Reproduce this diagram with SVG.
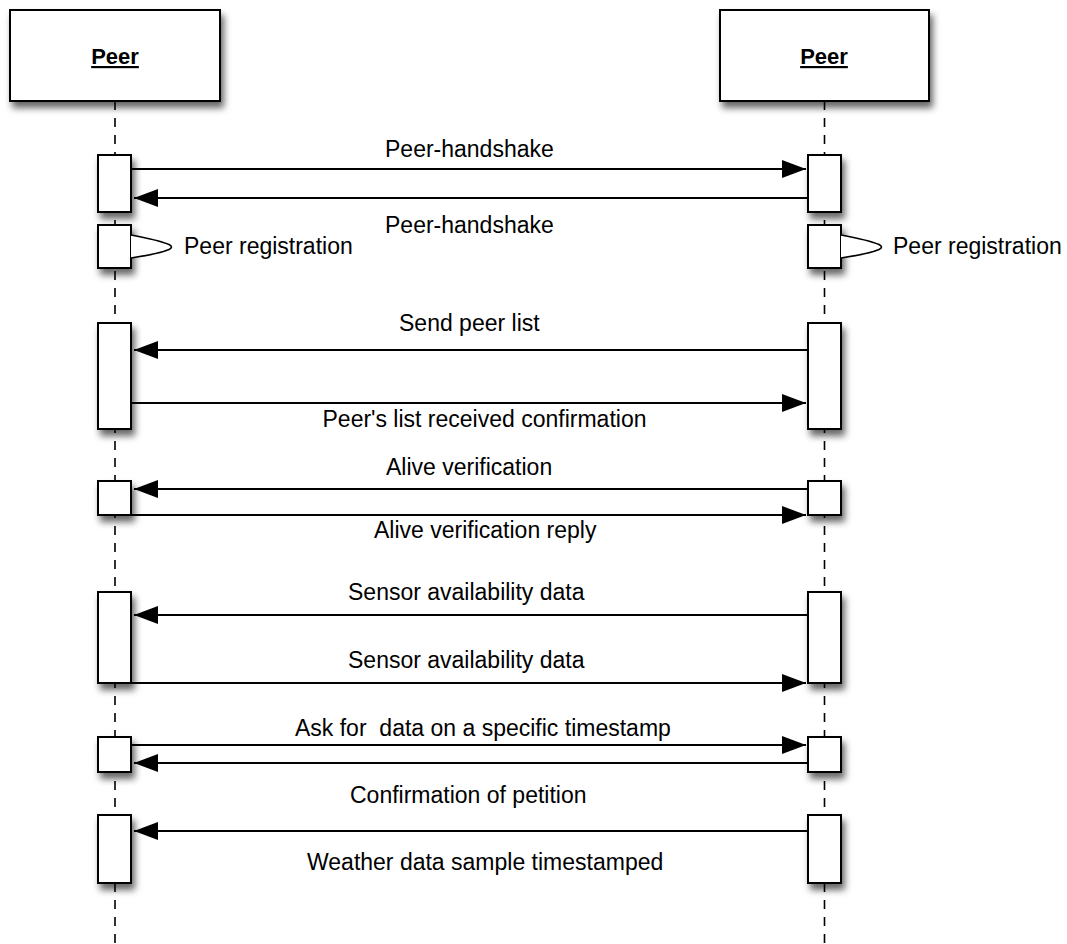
<svg xmlns="http://www.w3.org/2000/svg" width="1067" height="944" viewBox="0 0 1067 944">
  <defs>
    <filter id="shadow" x="-30%" y="-30%" width="170%" height="170%">
      <feDropShadow dx="3" dy="6" stdDeviation="3.5" flood-color="#000" flood-opacity="0.6"/>
    </filter>
    <marker id="head" markerUnits="userSpaceOnUse" markerWidth="24" markerHeight="18" refX="24" refY="9" orient="auto">
      <path d="M0,0 L24,9 L0,18 z" fill="#000"/>
    </marker>
    <style>
      .box { fill: #fff; stroke: #000; stroke-width: 2; filter: url(#shadow); }
      .life { stroke: #000; stroke-width: 1.6; stroke-dasharray: 9 8; fill: none; }
      .msg { stroke: #000; stroke-width: 2; fill: none; }
      .arrow { marker-end: url(#head); }
      .self { stroke: #000; stroke-width: 1.6; fill: #fff; }
      .lbl { font-family: "Liberation Sans", Arial, sans-serif; font-size: 23px; fill: #000; }
      .title { font-family: "Liberation Sans", Arial, sans-serif; font-size: 22px; font-weight: bold; text-decoration: underline; fill: #000; text-anchor: middle; }
    </style>
  </defs>
  <rect width="1067" height="944" fill="#fff"/>

  <!-- lifelines -->
  <g id="lifelines">
    <line class="life" x1="115" y1="101" x2="115" y2="944"/>
    <line class="life" x1="824.5" y1="101" x2="824.5" y2="944"/>
  </g>

  <!-- participant heads -->
  <g id="peer-left">
    <rect class="box" x="10" y="10" width="210" height="91"/>
    <text class="title" x="115" y="64">Peer</text>
  </g>
  <g id="peer-right">
    <rect class="box" x="720" y="10" width="209" height="91"/>
    <text class="title" x="824" y="64">Peer</text>
  </g>

  <!-- activation bars, left lifeline -->
  <g id="act-left">
    <rect class="box" x="98" y="155" width="33" height="57"/>
    <rect class="box" x="98" y="225" width="33" height="43"/>
    <rect class="box" x="98" y="323" width="33" height="106"/>
    <rect class="box" x="98" y="481" width="33" height="34"/>
    <rect class="box" x="98" y="592" width="33" height="91"/>
    <rect class="box" x="98" y="737" width="33" height="35"/>
    <rect class="box" x="98" y="815" width="33" height="68"/>
  </g>

  <!-- activation bars, right lifeline -->
  <g id="act-right">
    <rect class="box" x="808" y="155" width="33" height="57"/>
    <rect class="box" x="808" y="225" width="33" height="43"/>
    <rect class="box" x="808" y="323" width="33" height="106"/>
    <rect class="box" x="808" y="481" width="33" height="34"/>
    <rect class="box" x="808" y="592" width="33" height="91"/>
    <rect class="box" x="808" y="737" width="33" height="35"/>
    <rect class="box" x="808" y="815" width="33" height="68"/>
  </g>

  <!-- messages -->
  <g id="connectors">
    <line class="msg arrow" x1="131" y1="169" x2="806" y2="169"/>
    <line class="msg arrow" x1="808" y1="198" x2="134" y2="198"/>
    <line class="msg arrow" x1="808" y1="350" x2="134" y2="350"/>
    <line class="msg arrow" x1="131" y1="403" x2="806" y2="403"/>
    <line class="msg arrow" x1="808" y1="489" x2="134" y2="489"/>
    <line class="msg arrow" x1="131" y1="515" x2="806" y2="515"/>
    <line class="msg arrow" x1="808" y1="615" x2="134" y2="615"/>
    <line class="msg arrow" x1="131" y1="683" x2="806" y2="683"/>
    <line class="msg arrow" x1="131" y1="745" x2="806" y2="745"/>
    <line class="msg arrow" x1="808" y1="763" x2="134" y2="763"/>
    <line class="msg arrow" x1="808" y1="831" x2="134" y2="831"/>
    <!-- self messages -->
    <path class="self" d="M131,235 Q158,240 169,244.5 Q174,247 169,249.5 Q158,254 131,258"/>
    <path class="self" d="M841,235 Q868,240 879,244.5 Q884,247 879,249.5 Q868,254 841,258"/>
  </g>

  <!-- message labels -->
  <g id="labels">
    <text class="lbl" x="385" y="157">Peer-handshake</text>
    <text class="lbl" x="385" y="233">Peer-handshake</text>
    <text class="lbl" x="184" y="254">Peer registration</text>
    <text class="lbl" x="893" y="254">Peer registration</text>
    <text class="lbl" x="399" y="331">Send peer list</text>
    <text class="lbl" x="322.5" y="427">Peer's list received confirmation</text>
    <text class="lbl" x="386" y="475">Alive verification</text>
    <text class="lbl" x="374" y="538">Alive verification reply</text>
    <text class="lbl" x="348" y="600">Sensor availability data</text>
    <text class="lbl" x="348" y="668">Sensor availability data</text>
    <text class="lbl" x="295" y="736" xml:space="preserve">Ask for  data on a specific timestamp</text>
    <text class="lbl" x="350" y="803">Confirmation of petition</text>
    <text class="lbl" x="307" y="870">Weather data sample timestamped</text>
  </g>
</svg>
